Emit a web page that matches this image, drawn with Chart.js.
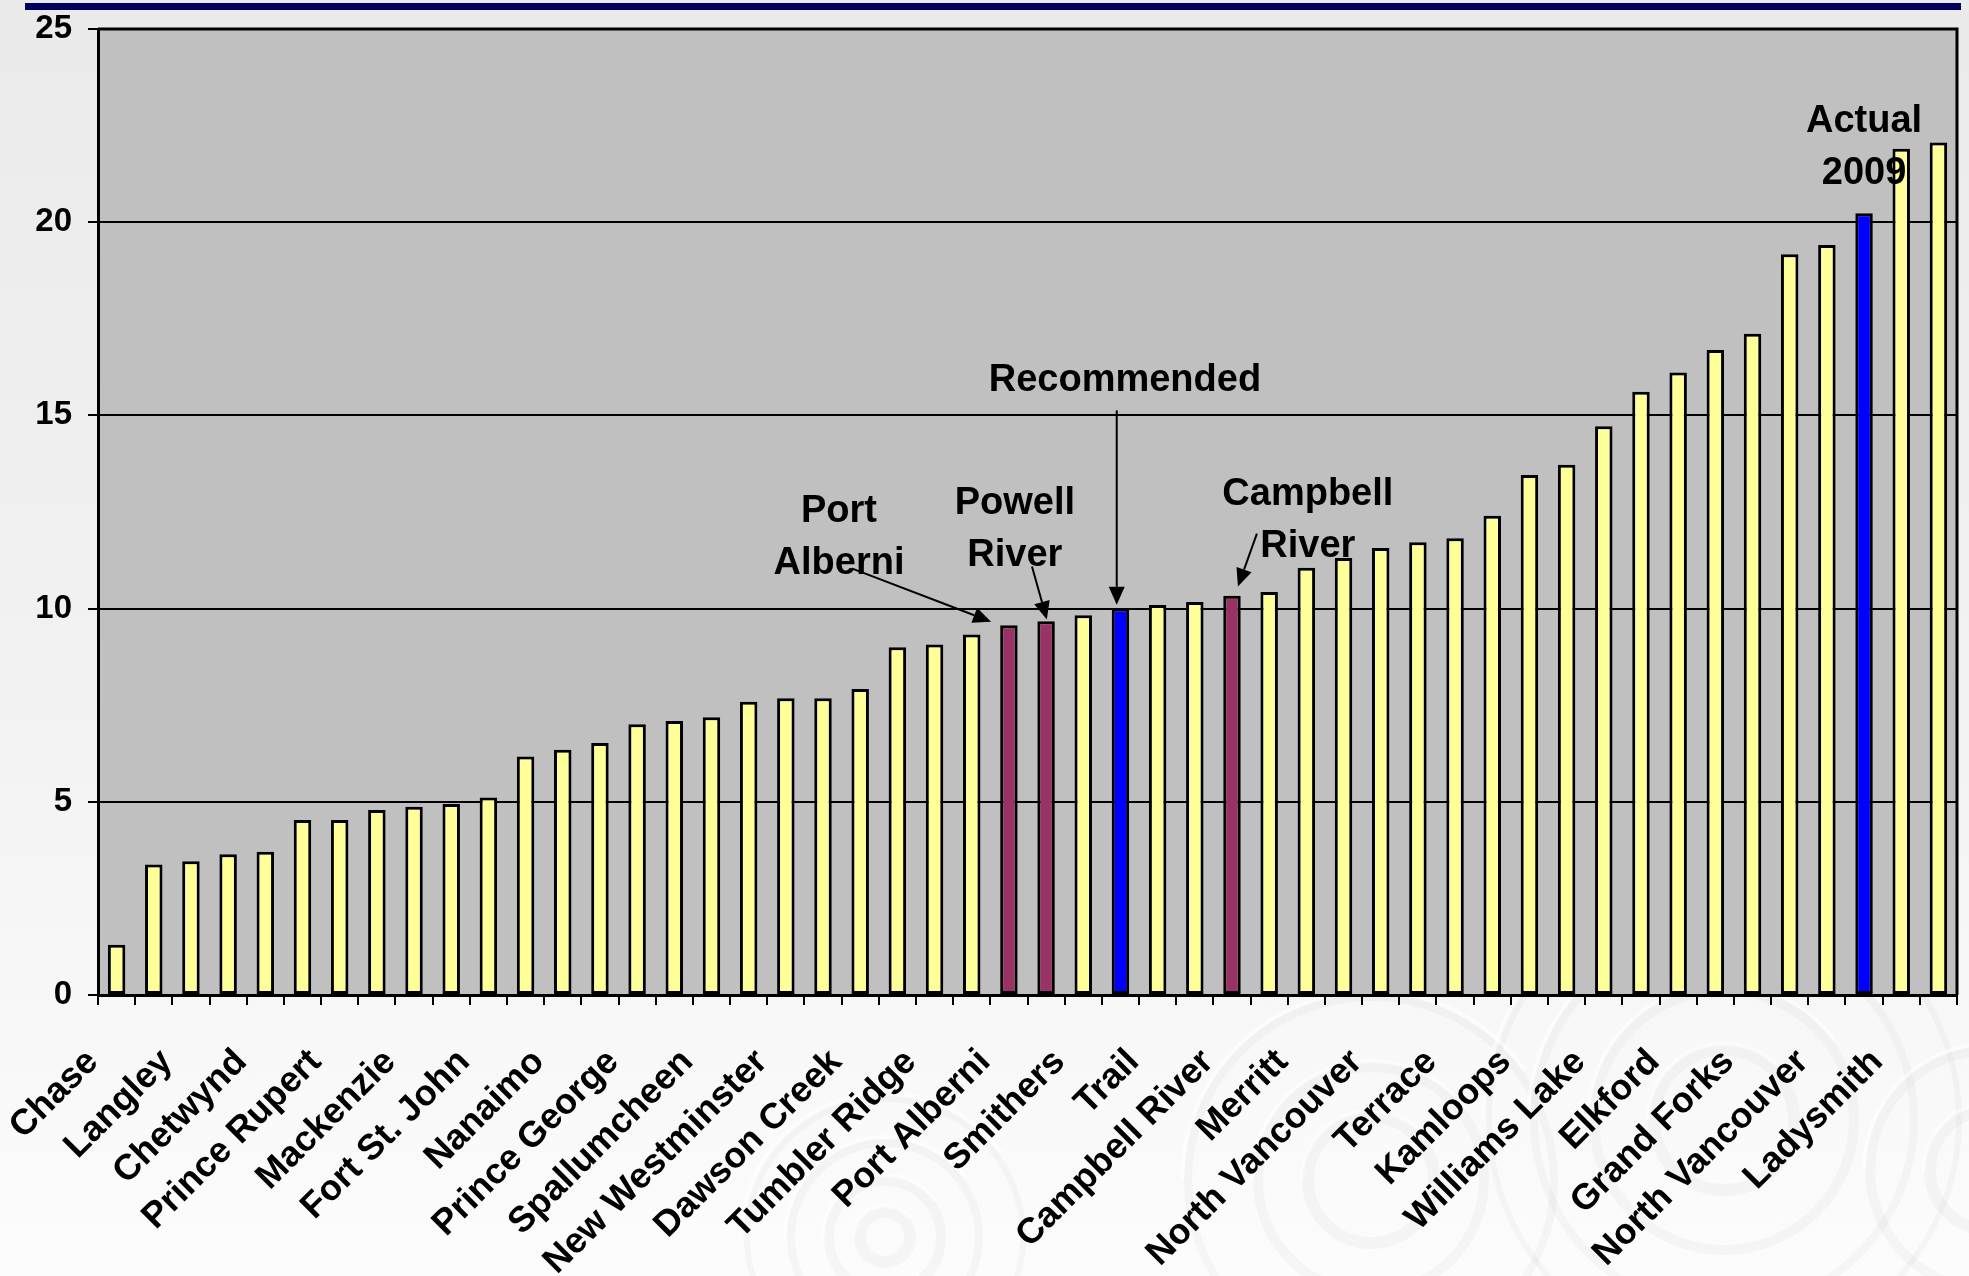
<!DOCTYPE html>
<html>
<head>
<meta charset="utf-8">
<script src="https://cdn.jsdelivr.net/npm/chart.js@4/dist/chart.umd.min.js"></script>
<style>
  html, body { margin: 0; padding: 0; width: 1969px; height: 1276px; overflow: hidden; }
  body { background: linear-gradient(#eaeaea 0%, #f2f2f2 55%, #fcfcfc 100%); }
  #rule { position: absolute; left: 25px; top: 3px; width: 1936px; height: 7px; background: #00005c; }
  #wrap { position: absolute; left: 0; top: 0; width: 1969px; height: 1276px; }
</style>
</head>
<body>
<div id="rule"></div>
<div id="wrap"><canvas id="c" width="1969" height="1276"></canvas></div>
<script>
// Communities named under every second bar
const tickNames = [
  'Chase', 'Langley', 'Chetwynd', 'Prince Rupert', 'Mackenzie', 'Fort St. John',
  'Nanaimo', 'Prince George', 'Spallumcheen', 'New Westminster', 'Dawson Creek',
  'Tumbler Ridge', 'Port Alberni', 'Smithers', 'Trail', 'Campbell River', 'Merritt',
  'North Vancouver', 'Terrace', 'Kamloops', 'Williams Lake', 'Elkford', 'Grand Forks',
  'North Vancouver', 'Ladysmith'
];

// One value per bar, lowest to highest
const values = [
  1.30, 3.38, 3.46, 3.64, 3.71, 4.53, 4.53, 4.79, 4.87, 4.94,
  5.11, 6.17, 6.35, 6.52, 7.01, 7.09, 7.19, 7.59, 7.68, 7.68,
  7.92, 9.00, 9.07, 9.33, 9.57, 9.67, 9.83, 10.00, 10.09, 10.17,
  10.33, 10.43, 11.06, 11.31, 11.57, 11.72, 11.82, 12.40, 13.46, 13.72,
  14.72, 15.61, 16.11, 16.69, 17.11, 19.17, 19.41, 20.23, 21.90, 22.06
];

// Highlighted bars (by position)
const comparisonBars = [24, 25, 30];   // Port Alberni, Powell River, Campbell River
const referenceBars = [27, 47];        // Recommended, Actual 2009

const yTicks = [0, 5, 10, 15, 20, 25];

const categories = values.map((_, i) => (i % 2 === 0 ? tickNames[i / 2] : ''));
const barColors = values.map((_, i) =>
  comparisonBars.includes(i) ? '#993366' : referenceBars.includes(i) ? '#0000ff' : '#ffff99');

const FONT = '"Liberation Sans", Arial, Helvetica, sans-serif';

// Callouts: text anchored in data space (category index, value), arrow ends on a bar top
const callouts = [
  { lines: ['Recommended'], at: [27.12, 15.62], from: [26.9, 15.13], bar: 27, dx: -0.1, gap: 0.1 },
  { lines: ['Port', 'Alberni'], at: [19.43, 12.25], from: [19.77, 11.04], bar: 24, dx: -0.48, gap: 0.09 },
  { lines: ['Powell', 'River'], at: [24.16, 12.44], from: [24.62, 11.09], bar: 25, dx: 0.02, gap: 0.05 },
  { lines: ['Campbell', 'River'], at: [32.04, 12.69], from: [30.67, 11.94], bar: 30, dx: 0.16, gap: 0.24 },
  { lines: ['Actual', '2009'], at: [47.0, 22.33] }
];

const panelPlugin = {
  id: 'panel',
  beforeDraw(chart) {
    const { ctx, chartArea: a } = chart;
    ctx.save();
    // faint ripple rings in the page background
    const rings = [
      [885, 1237, [25, 56, 94, 138]],
      [1371, 1180, [63, 113, 183]],
      [1724, 1120, [70, 130, 190, 235]],
      [1990, 1170, [60, 120]]
    ];
    rings.forEach(([cx, cy, rs]) => {
      rs.forEach((r, k) => {
        ctx.beginPath();
        ctx.arc(cx, cy, r, 0, Math.PI * 2);
        ctx.lineWidth = 12 - k * 2;
        ctx.strokeStyle = 'rgba(170,170,170,0.08)';
        ctx.stroke();
        ctx.beginPath();
        ctx.arc(cx, cy, r + 6, Math.PI * 1.0, Math.PI * 1.8);
        ctx.lineWidth = 4;
        ctx.strokeStyle = 'rgba(255,255,255,0.55)';
        ctx.stroke();
      });
    });
    ctx.fillStyle = '#c0c0c0';
    ctx.fillRect(a.left, a.top, a.right - a.left, a.bottom - a.top);
    ctx.restore();
  },
  afterDatasetsDraw(chart) {
    const { ctx, chartArea: a, scales: { x, y } } = chart;
    ctx.save();
    ctx.strokeStyle = '#000';
    ctx.lineWidth = 3;
    ctx.beginPath();
    ctx.moveTo(a.left, a.top);
    ctx.lineTo(a.right, a.top);
    ctx.lineTo(a.right, a.bottom);
    ctx.stroke();

    ctx.fillStyle = '#000';
    ctx.font = 'bold 38px ' + FONT;
    ctx.textAlign = 'center';
    ctx.textBaseline = 'alphabetic';
    const lineStep = 52;
    callouts.forEach(c => {
      const tx = x.getPixelForValue(c.at[0]);
      const ty = y.getPixelForValue(c.at[1]);
      c.lines.forEach((t, k) => ctx.fillText(t, tx, ty + k * lineStep));
      if (c.from) {
        const x0 = x.getPixelForValue(c.from[0]);
        const y0 = y.getPixelForValue(c.from[1]);
        const x1 = x.getPixelForValue(c.bar + c.dx);
        const y1 = y.getPixelForValue(values[c.bar] + c.gap);
        const ang = Math.atan2(y1 - y0, x1 - x0);
        const head = 18, half = 8;
        const bx = x1 - head * Math.cos(ang), by = y1 - head * Math.sin(ang);
        ctx.lineWidth = 2;
        ctx.beginPath();
        ctx.moveTo(x0, y0);
        ctx.lineTo(bx, by);
        ctx.stroke();
        ctx.beginPath();
        ctx.moveTo(x1, y1);
        ctx.lineTo(bx + half * Math.sin(ang), by - half * Math.cos(ang));
        ctx.lineTo(bx - half * Math.sin(ang), by + half * Math.cos(ang));
        ctx.closePath();
        ctx.fill();
      }
    });
    ctx.restore();
  }
};

new Chart(document.getElementById('c'), {
  type: 'bar',
  data: {
    labels: categories,
    datasets: [{
      data: values,
      backgroundColor: barColors,
      borderColor: '#000',
      borderWidth: 3,
      borderSkipped: false,
      barPercentage: 0.47,
      categoryPercentage: 1.0
    }]
  },
  options: {
    responsive: false,
    animation: false,
    devicePixelRatio: 1,
    layout: { padding: { left: 0, right: 12, top: 29, bottom: 0 } },
    plugins: { legend: { display: false }, tooltip: { enabled: false } },
    scales: {
      x: {
        grid: { display: true, drawOnChartArea: false, drawTicks: true, tickLength: 10, color: '#000', lineWidth: 2, offset: true },
        border: { display: true, color: '#000', width: 3 },
        ticks: {
          autoSkip: false, minRotation: 45, maxRotation: 45,
          padding: 36, labelOffset: -24, color: '#000',
          font: { family: FONT, size: 36, weight: 'bold' },
          callback: (v, i) => categories[i]
        },
        afterFit(s) { s.height = 281; s.paddingLeft = 0; s.paddingRight = 0; }
      },
      y: {
        min: yTicks[0], max: yTicks[yTicks.length - 1],
        afterBuildTicks(s) { s.ticks = yTicks.map(v => ({ value: v })); },
        grid: { color: '#000', lineWidth: 2, tickLength: 10, drawTicks: true },
        border: { display: true, color: '#000', width: 3 },
        ticks: { padding: 16, color: '#000', font: { family: FONT, size: 33, weight: 'bold' } },
        afterFit(s) { s.width = 98; s.paddingTop = 0; s.paddingBottom = 0; }
      }
    }
  },
  plugins: [panelPlugin]
});
</script>
</body>
</html>
